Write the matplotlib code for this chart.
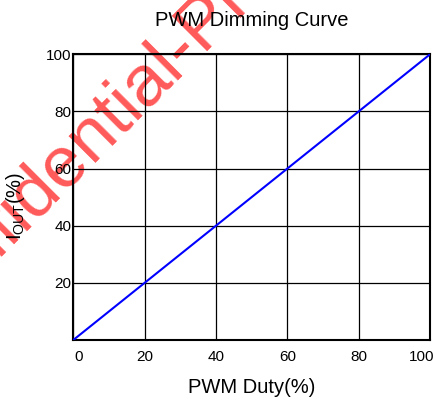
import matplotlib
matplotlib.use('Agg')
import matplotlib.pyplot as plt
import matplotlib.transforms as mtransforms
import numpy as np

plt.rcParams['font.family'] = ['Liberation Sans', 'DejaVu Sans']

duty = [0, 20, 40, 60, 80, 100]
iout = [0, 20, 40, 60, 80, 100]
x_ticks = [0, 20, 40, 60, 80, 100]
y_ticks = [20, 40, 60, 80, 100]


def main():
    fig = plt.figure(figsize=(4.35, 4.04), dpi=100)
    ax = fig.add_axes([0.168, 0.158, 0.821, 0.708])
    ax.set_zorder(1)
    ax.patch.set_visible(False)

    ax.plot(duty, iout, color='#0000ff', linewidth=1.5, zorder=3)

    ax.set_xlim(0, 100)
    ax.set_ylim(0, 100)
    ax.set_xticks(x_ticks)
    ax.set_yticks(y_ticks)
    ax.tick_params(length=0, labelsize=11)
    ax.tick_params(axis='y', pad=1)
    ax.set_xticklabels([])
    ax.grid(True, color='black', linewidth=0.9)
    for s in ax.spines.values():
        s.set_linewidth(1.5)

    # x tick labels drawn by hand so the end ones can sit inside like the original
    base = ax.get_xaxis_transform()
    for v in x_ticks:
        dx = 0
        if v == x_ticks[0]:
            dx = 6
        elif v == x_ticks[-1]:
            dx = -9
        off = mtransforms.ScaledTranslation(dx / 100, -10 / 100, fig.dpi_scale_trans)
        ax.text(v, 0, str(v), transform=base + off, ha='center', va='top', fontsize=11)

    ax.set_title('PWM Dimming Curve', fontsize=14.5, pad=20)
    ax.set_xlabel('PWM Duty(%)', fontsize=14.5, labelpad=24)
    ax.set_ylabel(r'I$_{\mathregular{OUT}}$(%)', fontsize=14.5)
    ax.yaxis.set_label_coords(-0.128, 0.47)

    # watermark
    fig.text(-0.193, 0.161, 'Confidential-Preliminary', color='#ff5a5a',
             fontsize=52, rotation=45, rotation_mode='anchor',
             ha='left', va='baseline', zorder=0)

    fig.savefig('out.png', dpi=100)


if __name__ == "__main__":
    main()
